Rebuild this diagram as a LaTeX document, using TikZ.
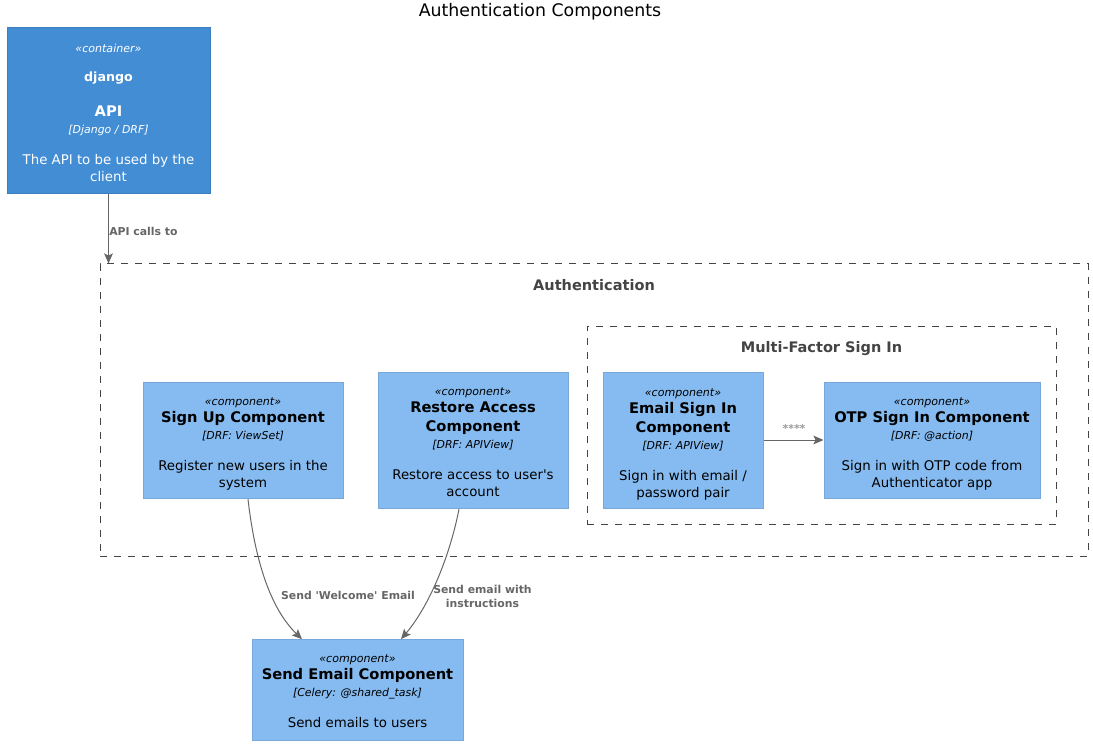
\documentclass[tikz,border=0pt]{standalone}
\usepackage{fontspec}
\setmainfont{DejaVu Sans}
\usetikzlibrary{arrows.meta, calc}
\definecolor{containerfill}{HTML}{438DD5}
\definecolor{containerline}{HTML}{3C7FC0}
\definecolor{componentfill}{HTML}{85BBF0}
\definecolor{componentline}{HTML}{78A8D8}
\definecolor{linkgray}{HTML}{666666}
\definecolor{stargray}{HTML}{999999}
\definecolor{clustergray}{HTML}{444444}
\newcommand{\stereo}[2][10.8pt]{{\fontsize{8.3}{12.75}\selectfont\itshape\rule{0pt}{#1}#2}}
\newcommand{\techline}[1]{{\fontsize{8.2}{12.75}\selectfont\itshape #1}}
\newcommand{\namedline}[1]{{\fontsize{11}{12.75}\selectfont\bfseries #1}}
\tikzset{
  box/.style={draw, line width=0.75pt, inner sep=0pt, align=center,
    font=\fontsize{10}{12.75}\selectfont},
  containerbox/.style={box, draw=containerline, fill=containerfill, text=white},
  componentbox/.style={box, draw=componentline, fill=componentfill, text=black},
  cluster/.style={draw=clustergray, line width=0.75pt, dash pattern=on 5.25pt off 5.25pt},
  clustertitle/.style={text=clustergray, font=\fontsize{10.9}{14}\selectfont\bfseries},
  link/.style={draw=linkgray, line width=0.75pt, -{Stealth[length=7.5pt, width=6.5pt, inset=1.5pt]}},
  linklabel/.style={text=linkgray, align=center, inner sep=0pt,
    font=\fontsize{8.15}{10.5}\selectfont\bfseries},
}

\begin{document}
\begin{tikzpicture}[x=0.75pt, y=-0.75pt]
      \useasboundingbox (0, 0) rectangle (1093, 745);

      \node (title) at (540, 11.5) {\fontsize{13}{15}\selectfont Authentication Components};

      % clusters
      \node[cluster, minimum width=741pt, minimum height=219pt, inner sep=0pt] (auth) at (594, 410) {};
      \node[clustertitle] (authtitle) at (594, 285.5) {Authentication};
      \node[cluster, minimum width=351.75pt, minimum height=148.5pt, inner sep=0pt] (mfa) at (821.5, 425.3) {};
      \node[clustertitle] (mfatitle) at (821.5, 349) {Multi-Factor Sign In};

      % boxes
      \node[containerbox, minimum width=152.25pt, minimum height=124pt] (api) at (108.5, 110.4) {
        \stereo[9.3pt]{«container»}\\[9pt]
        {\fontsize{9.5}{12.75}\selectfont\bfseries django}\\[13.5pt]
        \namedline{API}\\
        \techline{[Django / DRF]}\\[10.5pt]
        The API to be used by the\\
        client};
      \node[componentbox, minimum width=150pt, minimum height=87.5pt] (signup) at (243, 440.4) {
        \stereo{«component»}\\
        \namedline{Sign Up Component}\\
        \techline{[DRF: ViewSet]}\\[10.5pt]
        Register new users in the\\
        system};
      \node[componentbox, minimum width=142.5pt, minimum height=102pt] (restore) at (473, 440.7) {
        \stereo[7.8pt]{«component»}\\
        \namedline{Restore Access}\\[1.5pt]
        \namedline{Component}\\
        \techline{[DRF: APIView]}\\[10.5pt]
        Restore access to user\textquotesingle s\\
        account};
      \node[componentbox, minimum width=120pt, minimum height=102pt] (email) at (683, 440.7) {
        \stereo{«component»}\\
        \namedline{Email Sign In}\\[1.5pt]
        \namedline{Component}\\
        \techline{[DRF: APIView]}\\[10.5pt]
        Sign in with email /\\
        password pair};
      \node[componentbox, minimum width=162pt, minimum height=87.5pt] (otp) at (932, 440.4) {
        \stereo{«component»}\\
        \namedline{OTP Sign In Component}\\
        \techline{[DRF: @action]}\\[10.5pt]
        Sign in with OTP code from\\
        Authenticator app};
      \node[componentbox, minimum width=158.25pt, minimum height=75.75pt] (send) at (357.5, 690.2) {
        \stereo[7.8pt]{«component»}\\
        \namedline{Send Email Component}\\
        \techline{[Celery: @shared\_task]}\\[10.5pt]
        Send emails to users};

      % links
      \draw[link] (api.south) -- (api.south |- auth.north);
      \draw[link] (email.east |- 0, 440) -- (otp.west |- 0, 440);
      \draw[link] ($(signup.south)+(5, 0)$) .. controls (255, 560) and (270, 608) .. ($(send.north)+(-55.5, 0)$);
      \draw[link] ($(restore.south)+(-14, 0)$) .. controls (450, 555) and (430, 605) .. ($(send.north)+(43.5, 0)$);

      \node[linklabel, anchor=west] (apilabel) at (109, 231) {API calls to};
      \node[linklabel] (welcomelabel) at (348, 595) {Send \textquotesingle Welcome\textquotesingle{} Email};
      \node[linklabel] (restorelabel) at (482.5, 596) {Send email with\\instructions};
      \node[linklabel, text=stargray] (starslabel) at (794, 428) {****};

    \end{tikzpicture}
\end{document}
